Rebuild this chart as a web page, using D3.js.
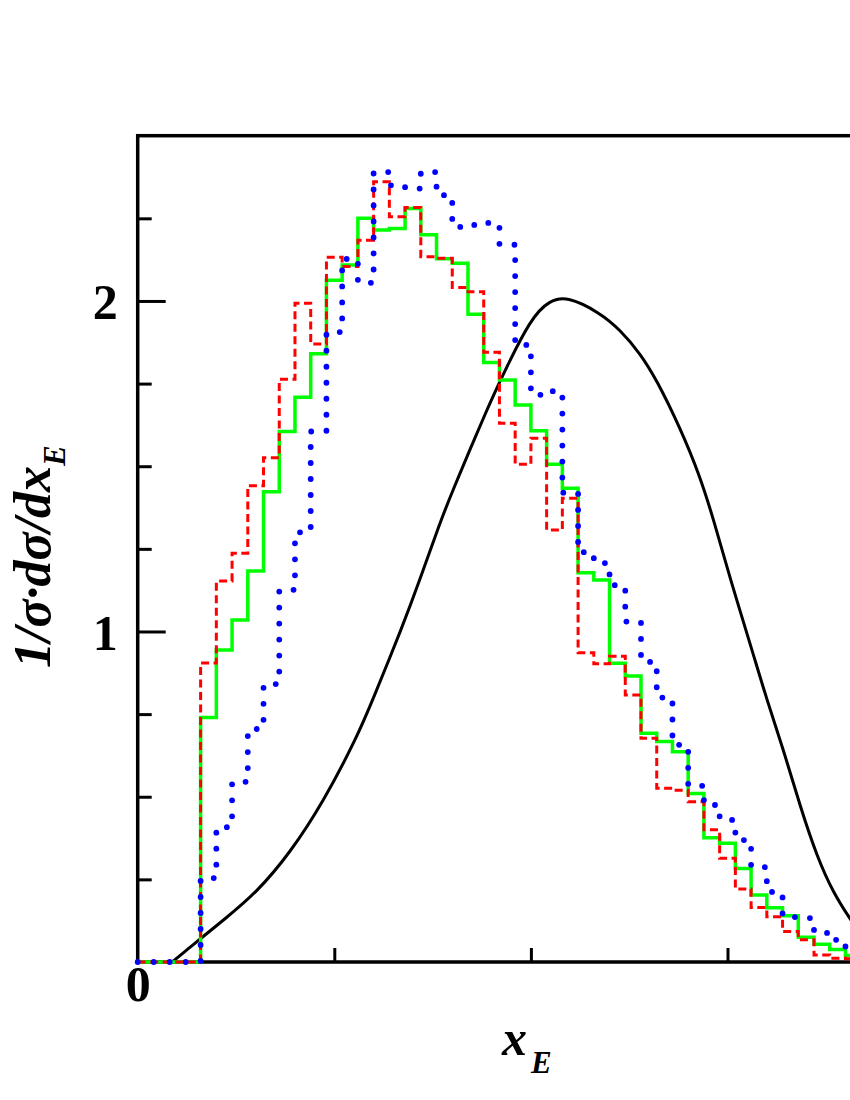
<!DOCTYPE html>
<html>
<head>
<meta charset="utf-8">
<script src="https://d3js.org/d3.v7.min.js"></script>
<style>
body { margin:0; background:white; }
svg { display:block; }
</style>
</head>
<body>
<svg id="chart"></svg>
<script>

var size = {width:850, height:1100}
var margins = {top:135.7, left:137.7}
var plot = {width:983, height:826.3}

// histogram bins, width 0.016, first bin starts at 0
var binStart = 0
var binWidth = 0.016

var greenVals = [0, 0, 0, 0,
    0.74, 0.944, 1.035, 1.183, 1.423, 1.605, 1.709, 1.84, 2.063, 2.109,
    2.25, 2.215, 2.219, 2.28, 2.2, 2.128, 2.114, 1.96, 1.814, 1.761,
    1.685, 1.607, 1.506, 1.433, 1.178, 1.156, 0.904, 0.865, 0.692, 0.667,
    0.636, 0.51, 0.376, 0.359, 0.283, 0.203, 0.164, 0.14, 0.075, 0.054,
    0.038, 0.02]

var redVals = [0, 0, 0, 0,
    0.905, 1.153, 1.237, 1.441, 1.526, 1.763, 1.993, 1.87, 2.132, 2.104,
    2.184, 2.361, 2.255, 2.283, 2.134, 2.129, 2.041, 2.028, 1.845, 1.63,
    1.506, 1.585, 1.307, 1.403, 0.936, 0.902, 0.925, 0.808, 0.677, 0.526,
    0.52, 0.485, 0.40, 0.314, 0.221, 0.165, 0.137, 0.092, 0.067, 0.021,
    0.011, 0.01]

var blueVals = [0, 0, 0, 0,
    0.254, 0.408, 0.545, 0.705, 0.841, 1.126, 1.30, 1.605, 1.906, 2.127,
    2.055, 2.39, 2.35, 2.34, 2.39, 2.32, 2.224, 2.23, 2.236, 2.17,
    1.867, 1.716, 1.727, 1.42, 1.24, 1.207, 1.14, 1.03, 0.908, 0.80,
    0.657, 0.533, 0.475, 0.43, 0.369, 0.287, 0.212, 0.136, 0.133, 0.088,
    0.067, 0.04]

// smooth black curve
var curveX = [0.035, 0.053, 0.064, 0.087, 0.121, 0.155, 0.189, 0.223, 0.238, 0.270,
    0.287, 0.3075, 0.321, 0.338, 0.348, 0.367, 0.401, 0.419, 0.436, 0.470,
    0.491, 0.511, 0.528, 0.552, 0.572, 0.586, 0.602, 0.625, 0.640, 0.657,
    0.674, 0.691, 0.708, 0.726]
var curveY = [0, 0.044, 0.071, 0.126, 0.21, 0.33, 0.485, 0.68, 0.785, 1.02,
    1.156, 1.33, 1.43, 1.55, 1.62, 1.75, 1.955, 2.0, 2.015, 1.965,
    1.912, 1.842, 1.761, 1.615, 1.47, 1.337, 1.166, 0.944, 0.793, 0.642,
    0.470, 0.319, 0.207, 0.125]

var xMinorTicks = [0.2, 0.4, 0.6, 0.8]
var xLabelTicks = [0]
var yMinorTicks = [0.25, 0.5, 0.75, 1.25, 1.5, 1.75, 2.25]
var yLabelTicks = [1, 2]

var labelFont = "'Liberation Serif', 'Times New Roman', serif"


var makeSteps = function(vals)
{
    var pts = vals.map(function(v, i){
        return [binStart + i*binWidth, v]
    })
    // close the last bin
    pts.push([binStart + vals.length*binWidth, vals[vals.length-1]])
    return pts
}


var setup = function()
{
    var svg = d3.select("#chart")
        .attr("width", size.width)
        .attr("height", size.height)

    var x = d3.scaleLinear().domain([0, 1])
        .range([margins.left, margins.left + plot.width])
    var y = d3.scaleLinear().domain([0, 2.5])
        .range([margins.top + plot.height, margins.top])

    var bottom = margins.top + plot.height

    // ticks
    var xMinor = svg.append("g")
        .attr("transform", "translate(0," + bottom + ")")
        .call(d3.axisBottom(x).tickValues(xMinorTicks).tickSize(-14).tickFormat(""))
    var xMajor = svg.append("g")
        .attr("transform", "translate(0," + bottom + ")")
        .call(d3.axisBottom(x).tickValues(xLabelTicks).tickSize(0).tickPadding(3)
            .tickFormat(d3.format("d")))
    var yMinor = svg.append("g")
        .attr("transform", "translate(" + margins.left + ",0)")
        .call(d3.axisLeft(y).tickValues(yMinorTicks).tickSize(-14).tickFormat(""))
    var yMajor = svg.append("g")
        .attr("transform", "translate(" + margins.left + ",0)")
        .call(d3.axisLeft(y).tickValues(yLabelTicks).tickSizeInner(-28).tickSizeOuter(0)
            .tickPadding(20).tickFormat(d3.format("d")))

    svg.selectAll(".domain").remove()
    svg.selectAll(".tick line").attr("stroke", "black").attr("stroke-width", 3)
    svg.selectAll(".tick text")
        .attr("fill", "black")
        .style("font-family", labelFont)
        .style("font-weight", "bold")
        .style("font-size", "50px")
    yMajor.selectAll(".tick text").attr("dy", "0.36em")

    // frame
    svg.append("rect")
        .attr("x", margins.left)
        .attr("y", margins.top)
        .attr("width", plot.width)
        .attr("height", plot.height)
        .attr("fill", "none")
        .attr("stroke", "black")
        .attr("stroke-width", 3.5)

    // black curve
    var smooth = d3.line()
        .x(function(d){ return x(d[0]) })
        .y(function(d){ return y(d[1]) })
        .curve(d3.curveBasis)

    svg.append("path")
        .datum(curveX.map(function(v, i){ return [v, curveY[i]] }))
        .attr("d", smooth)
        .attr("fill", "none")
        .attr("stroke", "black")
        .attr("stroke-width", 3)

    var stepLine = d3.line()
        .x(function(d){ return x(d[0]) })
        .y(function(d){ return y(d[1]) })
        .curve(d3.curveStepAfter)

    svg.append("path")
        .datum(makeSteps(greenVals))
        .attr("d", stepLine)
        .attr("fill", "none")
        .attr("stroke", "#00ff00")
        .attr("stroke-width", 3.5)

    svg.append("path")
        .datum(makeSteps(redVals))
        .attr("d", stepLine)
        .attr("fill", "none")
        .attr("stroke", "#ff0000")
        .attr("stroke-width", 3)
        .attr("stroke-dasharray", "8,4.5")

    svg.append("path")
        .datum(makeSteps(blueVals))
        .attr("d", stepLine)
        .attr("fill", "none")
        .attr("stroke", "#0000ff")
        .attr("stroke-width", 5.8)
        .attr("stroke-linecap", "round")
        .attr("stroke-dasharray", "0,16")

    // axis titles
    var yt = svg.append("text")
        .attr("transform", "translate(50,668) rotate(-90)")
        .style("font-family", labelFont)
        .style("font-weight", "bold")
        .style("font-style", "italic")
        .style("font-size", "52px")
    yt.append("tspan").text("1/σ·dσ/dx")
    yt.append("tspan").attr("dy", 15).style("font-size", "31px").text("E")

    var xt = svg.append("text")
        .attr("x", 502)
        .attr("y", 1055)
        .style("font-family", labelFont)
        .style("font-weight", "bold")
        .style("font-style", "italic")
        .style("font-size", "50px")
    xt.append("tspan").text("x")
    xt.append("tspan").attr("dy", 18).attr("dx", 4).style("font-size", "31px").text("E")
}

setup()

</script>
</body>
</html>
